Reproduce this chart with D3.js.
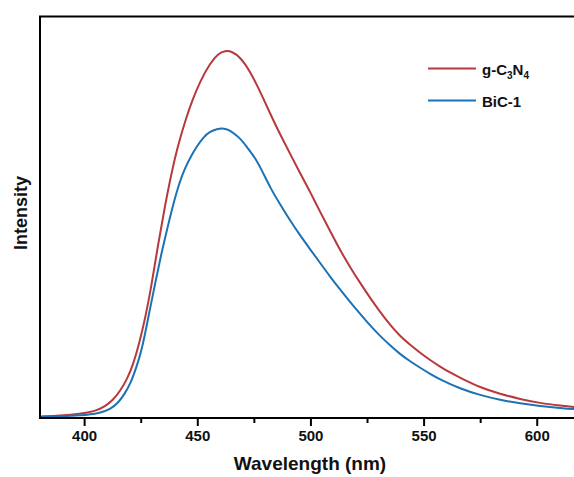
<!DOCTYPE html>
<html>
<head>
<meta charset="utf-8">
<script src="https://cdn.jsdelivr.net/npm/d3@7"></script>
<style>
  html, body { margin: 0; padding: 0; background: #ffffff; }
  svg { display: block; font-family: "Liberation Sans", Arial, sans-serif; }
</style>
</head>
<body>
<svg id="chart" width="574" height="477"></svg>
<script>
// Photoluminescence spectra (arbitrary intensity units)
const seriesNames = ["g-C3N4", "BiC-1"];
const seriesColors = ["#b8393d", "#1b72b5"];

const wlGCN = [380.6, 389.4, 398.2, 404.9, 409.3, 412.8, 415.9, 419.0, 421.7, 424.3, 427.0, 429.6, 432.7,
  435.8, 438.0, 440.2, 442.4, 445.1, 447.7, 451.3, 455.7, 459.2, 462.3, 465.4, 468.9, 473.4, 479.1, 483.5,
  487.9, 495.4, 499.9, 504.3, 508.7, 513.1, 517.5, 522.0, 526.4, 530.8, 535.2, 539.6, 544.1, 548.5,
  552.9, 557.3, 561.7, 566.2, 575.0, 583.8, 592.7, 601.5, 610.3, 619.2, 625];
const intGCN = [0.004, 0.006, 0.010, 0.017, 0.029, 0.045, 0.067, 0.097, 0.134, 0.184, 0.249, 0.324, 0.433,
  0.531, 0.593, 0.650, 0.697, 0.747, 0.790, 0.839, 0.884, 0.907, 0.915, 0.913, 0.899, 0.864, 0.797, 0.742,
  0.692, 0.610, 0.563, 0.513, 0.466, 0.418, 0.376, 0.336, 0.299, 0.264, 0.232, 0.204, 0.182, 0.162,
  0.144, 0.128, 0.113, 0.100, 0.076, 0.060, 0.047, 0.037, 0.031, 0.026, 0.024];

const wlBiC = [380.6, 389.4, 398.2, 407.1, 411.5, 415.0, 418.1, 420.6, 423.0, 425.5, 428.3, 431.4, 434.0,
  436.7, 439.3, 442.0, 444.6, 447.3, 449.9, 452.6, 455.7, 458.8, 461.0, 463.6, 466.7, 469.4, 472.0,
  475.6, 478.7, 482.2, 486.6, 491.0, 495.4, 499.9, 504.3, 508.7, 513.1, 517.5, 522.0, 526.4, 530.8,
  535.2, 539.6, 544.1, 548.5, 552.9, 557.3, 566.2, 575.0, 583.8, 592.7, 601.5, 610.3, 619.2, 625];
const intBiC = [0.002, 0.004, 0.006, 0.012, 0.022, 0.037, 0.062, 0.087, 0.125, 0.169, 0.249, 0.336, 0.406,
  0.471, 0.531, 0.585, 0.623, 0.653, 0.677, 0.699, 0.714, 0.720, 0.722, 0.719, 0.707, 0.694, 0.674,
  0.648, 0.615, 0.574, 0.532, 0.492, 0.455, 0.420, 0.386, 0.352, 0.320, 0.289, 0.259, 0.230, 0.204,
  0.181, 0.159, 0.141, 0.125, 0.110, 0.096, 0.073, 0.057, 0.045, 0.036, 0.030, 0.025, 0.021, 0.020];

const majorTicks = [400, 450, 500, 550, 600];
const minorTicks = [425, 475, 525, 575];
const xTitle = "Wavelength (nm)";
const yTitle = "Intensity";

const svg = d3.select("#chart");
const plotLeft = 40, plotTop = 16.5, plotBottom = 418, plotRight = 582;

const x = d3.scaleLinear().domain([380.5, 620]).range([plotLeft, plotRight]);
const y = d3.scaleLinear().domain([0, 1]).range([plotBottom, plotTop]);

svg.append("defs").append("clipPath").attr("id", "plotClip")
  .append("rect").attr("x", plotLeft).attr("y", plotTop)
  .attr("width", plotRight - plotLeft).attr("height", plotBottom - plotTop);

const series = [
  { name: seriesNames[0], color: seriesColors[0], pts: wlGCN.map((w, i) => [w, intGCN[i]]) },
  { name: seriesNames[1], color: seriesColors[1], pts: wlBiC.map((w, i) => [w, intBiC[i]]) }
];

// B-spline through the sampled spectrum keeps the emission bands smooth
const line = d3.line().x(d => x(d[0])).y(d => y(d[1])).curve(d3.curveBasis);

const g = svg.append("g").attr("clip-path", "url(#plotClip)");
series.forEach(s => {
  g.append("path").attr("d", line(s.pts)).attr("fill", "none")
    .attr("stroke", s.color).attr("stroke-width", 2);
});

// bottom axis with major and minor ticks
const xAxis = d3.axisBottom(x).tickValues(majorTicks).tickSize(8).tickPadding(4).tickFormat(d3.format("d"));
const axG = svg.append("g").attr("transform", `translate(0,${plotBottom})`).call(xAxis);
axG.select(".domain").remove();
axG.selectAll(".tick line").attr("stroke", "#000").attr("stroke-width", 2);
axG.selectAll(".tick text").attr("font-size", 15).attr("font-weight", "bold").attr("fill", "#111");

const minorAxis = d3.axisBottom(x).tickValues(minorTicks).tickSize(5).tickFormat("");
const mG = svg.append("g").attr("transform", `translate(0,${plotBottom})`).call(minorAxis);
mG.select(".domain").remove();
mG.selectAll(".tick line").attr("stroke", "#000").attr("stroke-width", 2);

// frame
svg.append("rect").attr("x", plotLeft).attr("y", plotTop)
  .attr("width", plotRight + 10 - plotLeft).attr("height", plotBottom - plotTop)
  .attr("fill", "none").attr("stroke", "#000").attr("stroke-width", 2);

// axis titles
svg.append("text").attr("x", (plotLeft + 580) / 2).attr("y", 470).attr("text-anchor", "middle")
  .attr("font-size", 19).attr("font-weight", "bold").attr("fill", "#111").text(xTitle);
svg.append("text").attr("transform", "translate(27,213) rotate(-90)").attr("text-anchor", "middle")
  .attr("font-size", 18).attr("font-weight", "bold").attr("fill", "#111").text(yTitle);

// legend
const legY = [68.5, 100.5];
series.forEach((s, i) => {
  svg.append("line").attr("x1", 428).attr("x2", 476).attr("y1", legY[i]).attr("y2", legY[i])
    .attr("stroke", s.color).attr("stroke-width", 2);
  const t = svg.append("text").attr("x", 482).attr("y", legY[i] + 6)
    .attr("font-size", 15).attr("font-weight", "bold").attr("fill", "#111");
  if (s.name === "g-C3N4") {
    t.append("tspan").text("g-C");
    t.append("tspan").attr("font-size", 10).attr("dy", 4).text("3");
    t.append("tspan").attr("dy", -4).text("N");
    t.append("tspan").attr("font-size", 10).attr("dy", 4).text("4");
  } else {
    t.text(s.name);
  }
});
</script>
</body>
</html>
